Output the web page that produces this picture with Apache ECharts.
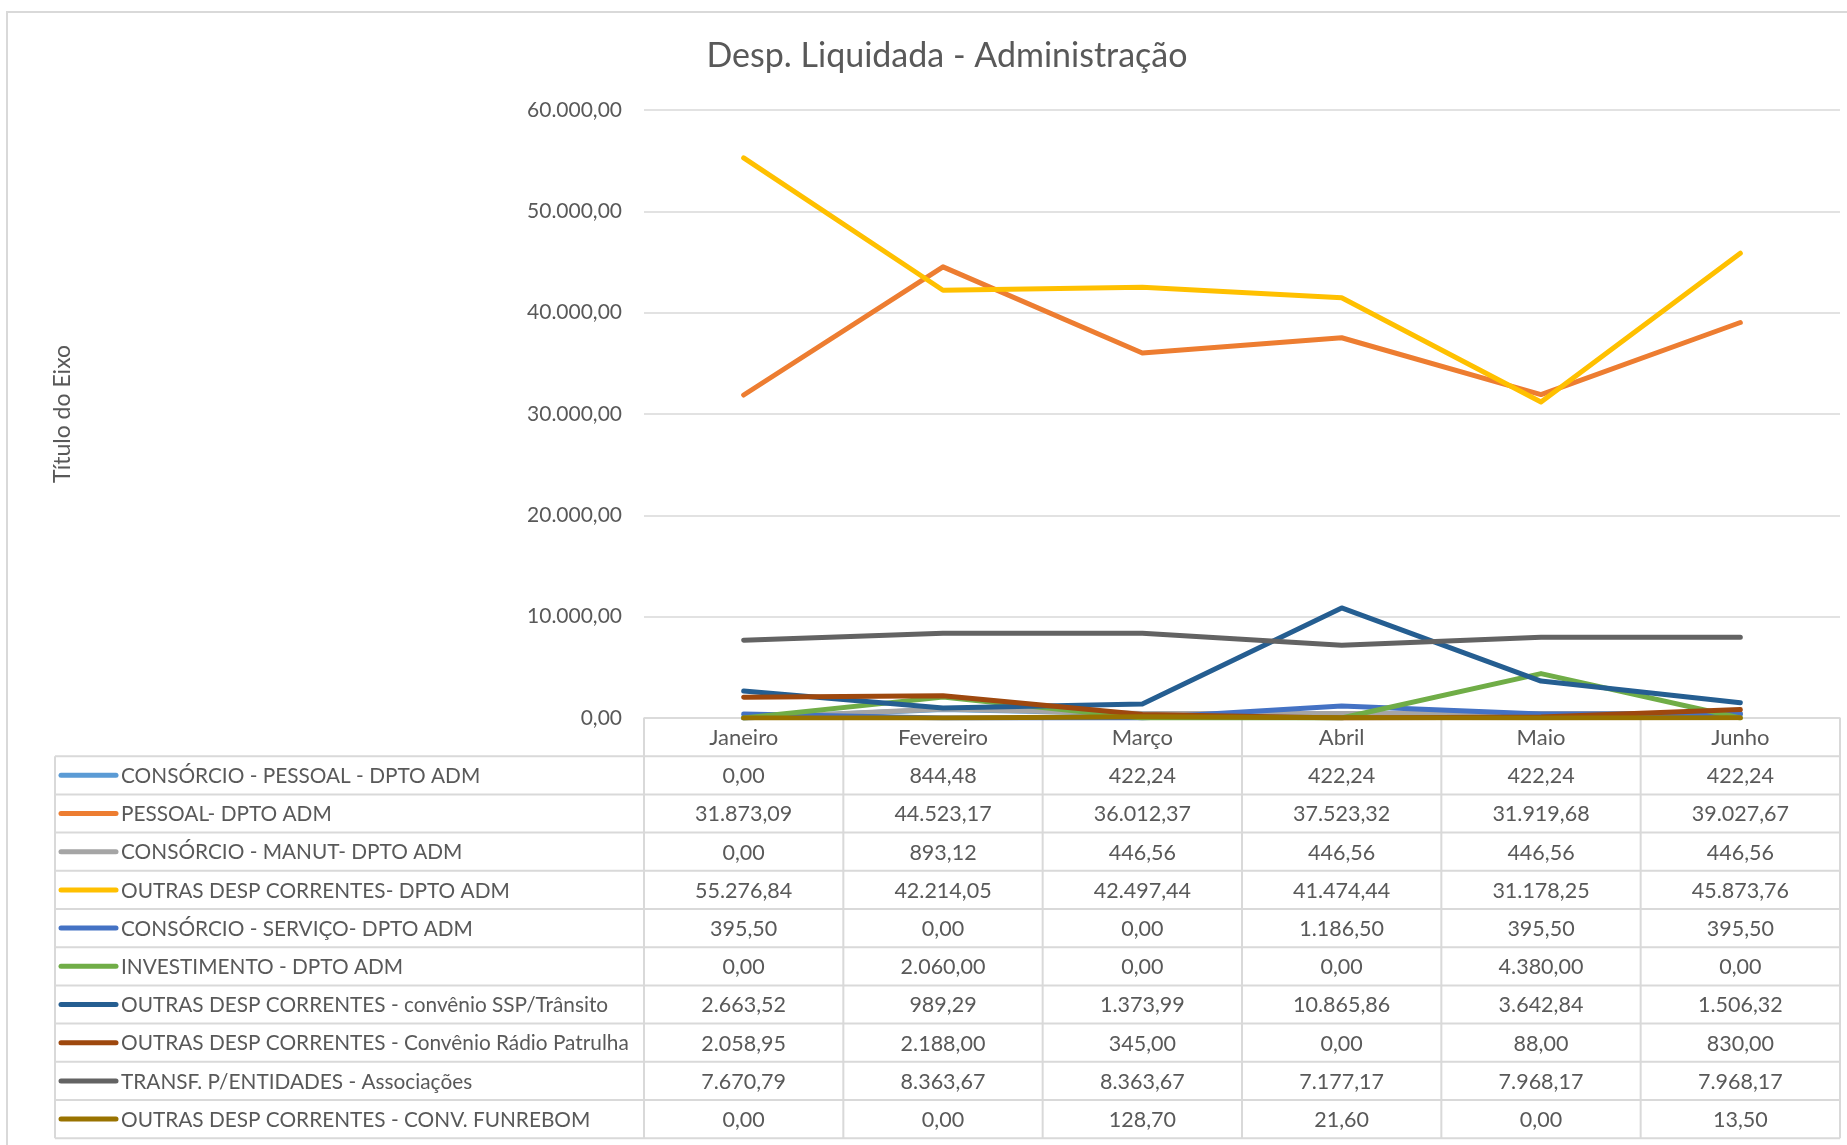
<!DOCTYPE html>
<html>
<head>
<meta charset="utf-8">
<script src="https://cdn.jsdelivr.net/npm/echarts@6/dist/echarts.min.js"></script>
<style>
html, body { margin: 0; padding: 0; background: #fff; }
#main { width: 1847px; height: 1145px; }
</style>
</head>
<body>
<div id="main"></div>
<script>
var chartDom = document.getElementById('main');
var myChart = echarts.init(chartDom);
var option;

// meses (colunas da tabela)
var meses = ['Janeiro', 'Fevereiro', 'Março', 'Abril', 'Maio', 'Junho'];

// valores liquidados por rubrica
var consorcioPessoal = [0, 844.48, 422.24, 422.24, 422.24, 422.24];
var pessoal = [31873.09, 44523.17, 36012.37, 37523.32, 31919.68, 39027.67];
var consorcioManut = [0, 893.12, 446.56, 446.56, 446.56, 446.56];
var outrasDesp = [55276.84, 42214.05, 42497.44, 41474.44, 31178.25, 45873.76];
var consorcioServico = [395.50, 0, 0, 1186.50, 395.50, 395.50];
var investimento = [0, 2060.00, 0, 0, 4380.00, 0];
var convenioSSP = [2663.52, 989.29, 1373.99, 10865.86, 3642.84, 1506.32];
var convenioRadio = [2058.95, 2188.00, 345.00, 0, 88.00, 830.00];
var transfEntidades = [7670.79, 8363.67, 8363.67, 7177.17, 7968.17, 7968.17];
var convFunrebom = [0, 0, 128.70, 21.60, 0, 13.50];

var nomes = [
    'CONSÓRCIO - PESSOAL - DPTO ADM',
    'PESSOAL- DPTO ADM',
    'CONSÓRCIO - MANUT- DPTO ADM',
    'OUTRAS DESP CORRENTES- DPTO ADM',
    'CONSÓRCIO - SERVIÇO- DPTO ADM',
    'INVESTIMENTO - DPTO ADM',
    'OUTRAS DESP CORRENTES - convênio SSP/Trânsito',
    'OUTRAS DESP CORRENTES - Convênio Rádio Patrulha',
    'TRANSF. P/ENTIDADES - Associações',
    'OUTRAS DESP CORRENTES - CONV. FUNREBOM'
];
var valores = [consorcioPessoal, pessoal, consorcioManut, outrasDesp, consorcioServico,
    investimento, convenioSSP, convenioRadio, transfEntidades, convFunrebom];

// paleta padrão do Excel
var cores = ['#5B9BD5', '#ED7D31', '#A5A5A5', '#FFC000', '#4472C4',
    '#70AD47', '#255E91', '#9E480E', '#636363', '#997300'];

var fonte = 'Lato';
var corTexto = '#595959';
var corGrade = '#d9d9d9';
var alturaLinha = 38.2;

// 12345.6 -> "12.345,60"
function formatoBR(v) {
    var partes = Math.abs(v).toFixed(2).split('.');
    var inteiro = partes[0].replace(/\B(?=(\d{3})+(?!\d))/g, '.');
    return (v < 0 ? '-' : '') + inteiro + ',' + partes[1];
}

option = {
    backgroundColor: '#fff',
    animation: false,
    title: {
        text: 'Desp. Liquidada - Administração',
        left: 942,
        top: 34,
        textAlign: 'center',
        textStyle: { fontFamily: fonte, fontSize: 34, fontWeight: 'normal', color: corTexto }
    },
    grid: { left: 644, right: 7, top: 110, bottom: 427, containLabel: false },
    xAxis: {
        type: 'category',
        data: meses,
        boundaryGap: true,
        axisLine: { show: true, lineStyle: { color: corGrade, width: 1.5 } },
        axisTick: { show: false },
        axisLabel: { show: false }
    },
    yAxis: {
        type: 'value',
        min: 0,
        max: 60000,
        interval: 10000,
        name: 'Título do Eixo',
        nameLocation: 'middle',
        nameGap: 570,
        nameTextStyle: { fontFamily: fonte, fontSize: 23, color: corTexto },
        axisLine: { show: false },
        axisTick: { show: false },
        axisLabel: {
            margin: 22,
            fontFamily: fonte,
            fontSize: 21,
            color: corTexto,
            formatter: formatoBR
        },
        splitLine: { lineStyle: { color: corGrade, width: 1.5 } }
    },
    series: valores.map(function (dados, i) {
        return {
            name: nomes[i],
            type: 'line',
            data: dados,
            symbol: 'none',
            smooth: false,
            lineStyle: { color: cores[i], width: 5, cap: 'round', join: 'round' },
            itemStyle: { color: cores[i] }
        };
    })
};

option && myChart.setOption(option);

// tabela de dados abaixo do gráfico, alinhada às categorias do eixo x
function desenhaTabela() {
    var c0 = myChart.convertToPixel({ xAxisIndex: 0 }, 0);
    var c1 = myChart.convertToPixel({ xAxisIndex: 0 }, 1);
    var banda = c1 - c0;
    var y0 = myChart.convertToPixel({ yAxisIndex: 0 }, 0);
    var esquerda = 55;
    var xIni = c0 - banda / 2;
    var xFim = xIni + banda * meses.length;
    var yFim = y0 + alturaLinha * (nomes.length + 1);
    var els = [];
    var estiloLinha = { stroke: corGrade, lineWidth: 2 };

    // bordas horizontais
    for (var r = 1; r <= nomes.length + 1; r++) {
        var y = y0 + r * alturaLinha;
        els.push({ type: 'line', shape: { x1: esquerda, y1: y, x2: xFim, y2: y }, style: estiloLinha, silent: true });
    }
    // bordas verticais
    els.push({ type: 'line', shape: { x1: esquerda, y1: y0 + alturaLinha, x2: esquerda, y2: yFim }, style: estiloLinha, silent: true });
    for (var k = 0; k <= meses.length; k++) {
        var x = xIni + k * banda;
        els.push({ type: 'line', shape: { x1: x, y1: y0, x2: x, y2: yFim }, style: estiloLinha, silent: true });
    }
    // cabeçalho
    meses.forEach(function (m, j) {
        els.push({
            type: 'text', silent: true,
            style: {
                x: c0 + j * banda, y: y0 + alturaLinha / 2 + 1, text: m,
                textAlign: 'center', textVerticalAlign: 'middle',
                font: '22px ' + fonte, fill: corTexto
            }
        });
    });
    // linhas com legenda e valores
    nomes.forEach(function (nome, i) {
        var yc = y0 + alturaLinha * (i + 1.5);
        els.push({
            type: 'line', silent: true,
            shape: { x1: 61, y1: yc, x2: 116, y2: yc },
            style: { stroke: cores[i], lineWidth: 5, lineCap: 'round' }
        });
        els.push({
            type: 'text', silent: true,
            style: {
                x: 121, y: yc + 1, text: nome,
                textAlign: 'left', textVerticalAlign: 'middle',
                font: '20.8px ' + fonte, fill: corTexto
            }
        });
        valores[i].forEach(function (v, j) {
            els.push({
                type: 'text', silent: true,
                style: {
                    x: c0 + j * banda, y: yc + 1, text: formatoBR(v),
                    textAlign: 'center', textVerticalAlign: 'middle',
                    font: '21.5px ' + fonte, fill: corTexto
                }
            });
        });
    });
    // moldura do gráfico
    els.push({
        type: 'rect', silent: true,
        shape: { x: 7, y: 12, width: 1860, height: 1160 },
        style: { fill: 'none', stroke: corGrade, lineWidth: 2 }
    });
    myChart.setOption({ graphic: els });
}

desenhaTabela();
</script>
</body>
</html>
